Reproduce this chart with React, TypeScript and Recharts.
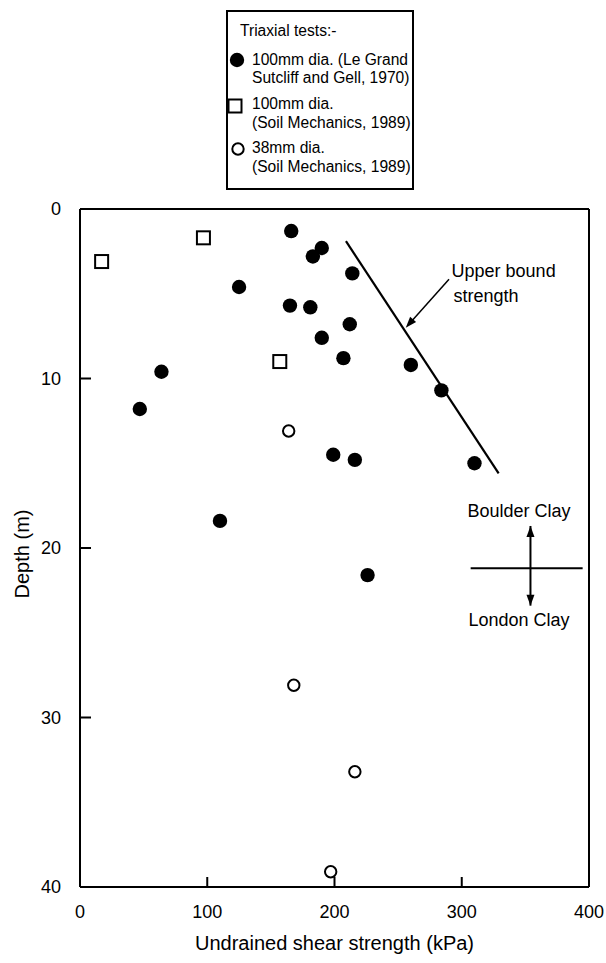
import React from "react";
import { ScatterChart, Scatter, XAxis, YAxis, ReferenceLine, ReferenceDot, Legend } from "recharts";

// 100mm dia. (Le Grand Sutcliff and Gell, 1970)
const leGrand100 = [
  { x: 166, y: 1.3 },
  { x: 190, y: 2.3 },
  { x: 183, y: 2.8 },
  { x: 214, y: 3.8 },
  { x: 125, y: 4.6 },
  { x: 165, y: 5.7 },
  { x: 181, y: 5.8 },
  { x: 212, y: 6.8 },
  { x: 190, y: 7.6 },
  { x: 207, y: 8.8 },
  { x: 260, y: 9.2 },
  { x: 64, y: 9.6 },
  { x: 284, y: 10.7 },
  { x: 47, y: 11.8 },
  { x: 199, y: 14.5 },
  { x: 216, y: 14.8 },
  { x: 310, y: 15.0 },
  { x: 110, y: 18.4 },
  { x: 226, y: 21.6 },
];

// 100mm dia. (Soil Mechanics, 1989)
const soilMech100 = [
  { x: 17, y: 3.1 },
  { x: 97, y: 1.7 },
  { x: 157, y: 9.0 },
];

// 38mm dia. (Soil Mechanics, 1989)
const soilMech38 = [
  { x: 164, y: 13.1 },
  { x: 168, y: 28.1 },
  { x: 216, y: 33.2 },
  { x: 197, y: 39.1 },
];

const upperBound = [{ x: 209, y: 1.9 }, { x: 329, y: 15.6 }];
const upperArrow = [{ x: 290, y: 4.15 }, { x: 256, y: 7.0 }];
const clayBoundary = [{ x: 307, y: 21.2 }, { x: 395, y: 21.2 }];
const clayArrow = [{ x: 354, y: 18.7 }, { x: 354, y: 23.4 }];

const xTicks = [0, 100, 200, 300, 400];
const yTicks = [0, 10, 20, 30, 40];

const legendTitle = "Triaxial tests:-";
const legendItems = [
  { marker: "filled", lines: ["100mm dia. (Le Grand", "Sutcliff and Gell, 1970)"] },
  { marker: "square", lines: ["100mm dia.", "(Soil Mechanics, 1989)"] },
  { marker: "open", lines: ["38mm dia.", "(Soil Mechanics, 1989)"] },
];

const FONT = "'Liberation Sans', Arial, Helvetica, sans-serif";

const FilledDot = (p: any) => <circle cx={p.cx} cy={p.cy} r={7.2} fill="#000" />;
const OpenSquare = (p: any) => (
  <rect x={p.cx - 6.5} y={p.cy - 6.5} width={13} height={13} fill="#fff" stroke="#000" strokeWidth={2} />
);
const OpenDot = (p: any) => <circle cx={p.cx} cy={p.cy} r={5.7} fill="#fff" stroke="#000" strokeWidth={2} />;

const XTick = (p: any) => {
  const { x, y, payload } = p;
  const v = payload.value;
  return (
    <g>
      {v > 0 && v < 400 ? <line x1={x} y1={y} x2={x} y2={y - 10} stroke="#000" strokeWidth={2} /> : null}
      <text x={x} y={y + 31} textAnchor="middle" fontSize={18} fontFamily={FONT} fill="#000">
        {v}
      </text>
    </g>
  );
};

const YTick = (p: any) => {
  const { x, y, payload } = p;
  const v = payload.value;
  return (
    <g>
      {v > 0 && v < 40 ? <line x1={x} y1={y} x2={x + 11} y2={y} stroke="#000" strokeWidth={2} /> : null}
      <text x={x - 19} y={y} dy="0.36em" textAnchor="end" fontSize={18} fontFamily={FONT} fill="#000">
        {v}
      </text>
    </g>
  );
};

const XTitle = ({ viewBox }: any) => (
  <text x={viewBox.x + viewBox.width / 2} y={viewBox.y + viewBox.height - 13} textAnchor="middle" fontSize={20} fontFamily={FONT} fill="#000">
    Undrained shear strength (kPa)
  </text>
);

const YTitle = ({ viewBox }: any) => {
  const cx = viewBox.x + 22;
  const cy = viewBox.y + viewBox.height / 2 + 6;
  return (
    <text x={cx} y={cy} dy="0.36em" textAnchor="middle" fontSize={20} fontFamily={FONT} fill="#000" transform={`rotate(-90 ${cx} ${cy})`}>
      Depth (m)
    </text>
  );
};

const arrowHead = (x: number, y: number, ang: number) => {
  const len = 11;
  const half = 4;
  const bx = x - len * Math.cos(ang);
  const by = y - len * Math.sin(ang);
  const nx = -Math.sin(ang) * half;
  const ny = Math.cos(ang) * half;
  return `${x},${y} ${bx + nx},${by + ny} ${bx - nx},${by - ny}`;
};

const SingleArrow = (p: any) => {
  const { x1, y1, x2, y2 } = p;
  const ang = Math.atan2(y2 - y1, x2 - x1);
  return (
    <g>
      <line x1={x1} y1={y1} x2={x2 - 6 * Math.cos(ang)} y2={y2 - 6 * Math.sin(ang)} stroke="#000" strokeWidth={1.5} />
      <polygon points={arrowHead(x2, y2, ang)} fill="#000" />
    </g>
  );
};

const DoubleArrow = (p: any) => {
  const { x1, y1, x2, y2 } = p;
  const ang = Math.atan2(y2 - y1, x2 - x1);
  return (
    <g>
      <line x1={x1} y1={y1} x2={x2} y2={y2} stroke="#000" strokeWidth={2} />
      <polygon points={arrowHead(x2, y2, ang)} fill="#000" />
      <polygon points={arrowHead(x1, y1, ang + Math.PI)} fill="#000" />
    </g>
  );
};

const makeText = (value: string, anchor: "start" | "middle") => (p: any) => (
  <text x={p.cx} y={p.cy} dy="0.36em" textAnchor={anchor} fontSize={18} fontFamily={FONT} fill="#000">
    {value}
  </text>
);

const LegendMarker = ({ kind }: { kind: string }) => (
  <svg width={18} height={18} style={{ position: "absolute", left: 0, top: 0, overflow: "visible" }}>
    {kind === "filled" ? <circle cx={9} cy={9} r={7.2} fill="#000" /> : null}
    {kind === "square" ? <rect x={2.5} y={2.5} width={13} height={13} fill="#fff" stroke="#000" strokeWidth={2} /> : null}
    {kind === "open" ? <circle cx={9} cy={9} r={5.7} fill="#fff" stroke="#000" strokeWidth={2} /> : null}
  </svg>
);

const LegendBox = () => {
  const tops = [
    [48, 66],
    [92, 111],
    [136, 155],
  ];
  const markerPos = [
    { left: 0, top: 39 },
    { left: -2.5, top: 85 },
    { left: 1, top: 128 },
  ];
  return (
    <div
      style={{
        position: "relative",
        width: 184,
        height: 176,
        border: "2px solid #000",
        background: "#fff",
        fontFamily: FONT,
        fontSize: 15.6,
        color: "#000",
        lineHeight: "20px",
      }}
    >
      <div style={{ position: "absolute", left: 12, top: 9, whiteSpace: "nowrap" }}>{legendTitle}</div>
      {legendItems.map((it, i) => (
        <React.Fragment key={i}>
          <div style={{ position: "absolute", left: markerPos[i].left, top: markerPos[i].top, width: 18, height: 18 }}>
            <LegendMarker kind={it.marker} />
          </div>
          {it.lines.map((ln, j) => (
            <div key={j} style={{ position: "absolute", left: 24, top: tops[i][j] - 10, whiteSpace: "nowrap" }}>
              {ln}
            </div>
          ))}
        </React.Fragment>
      ))}
    </div>
  );
};

export default function App() {
  return (
    <div style={{ position: "absolute", left: 0, top: 0, width: 606, height: 963, background: "#fff" }}>
      <ScatterChart width={606} height={963} margin={{ top: 209, right: 17, bottom: 0, left: 0 }}>
        <XAxis
          type="number"
          dataKey="x"
          domain={[0, 400]}
          ticks={xTicks}
          interval={0}
          height={76}
          tickSize={0}
          tickMargin={0}
          tickLine={false}
          axisLine={{ stroke: "#000", strokeWidth: 2 }}
          tick={<XTick />}
          label={<XTitle />}
        />
        <YAxis
          type="number"
          dataKey="y"
          domain={[0, 40]}
          reversed
          ticks={yTicks}
          interval={0}
          width={80}
          tickSize={0}
          tickMargin={0}
          tickLine={false}
          axisLine={{ stroke: "#000", strokeWidth: 2 }}
          tick={<YTick />}
          label={<YTitle />}
        />
        <ReferenceLine y={0} stroke="#000" strokeWidth={2} />
        <ReferenceLine x={400} stroke="#000" strokeWidth={2} />
        <ReferenceLine segment={upperBound} stroke="#000" strokeWidth={2.2} />
        <ReferenceLine segment={upperArrow} shape={SingleArrow} />
        <ReferenceLine segment={clayBoundary} stroke="#000" strokeWidth={2} />
        <ReferenceLine segment={clayArrow} shape={DoubleArrow} />
        <ReferenceDot x={292} y={3.6} r={0} shape={makeText("Upper bound", "start")} />
        <ReferenceDot x={293.5} y={5.1} r={0} shape={makeText("strength", "start")} />
        <ReferenceDot x={345} y={17.8} r={0} shape={makeText("Boulder Clay", "middle")} />
        <ReferenceDot x={345} y={24.2} r={0} shape={makeText("London Clay", "middle")} />
        <Scatter name="100mm dia. (Le Grand Sutcliff and Gell, 1970)" data={leGrand100} shape={FilledDot} isAnimationActive={false} />
        <Scatter name="100mm dia. (Soil Mechanics, 1989)" data={soilMech100} shape={OpenSquare} isAnimationActive={false} />
        <Scatter name="38mm dia. (Soil Mechanics, 1989)" data={soilMech38} shape={OpenDot} isAnimationActive={false} />
        <Legend
          layout="vertical"
          align="center"
          verticalAlign="middle"
          content={() => <LegendBox />}
          wrapperStyle={{ position: "absolute", top: 10, left: 226, width: 188, height: 180 }}
        />
      </ScatterChart>
    </div>
  );
}
